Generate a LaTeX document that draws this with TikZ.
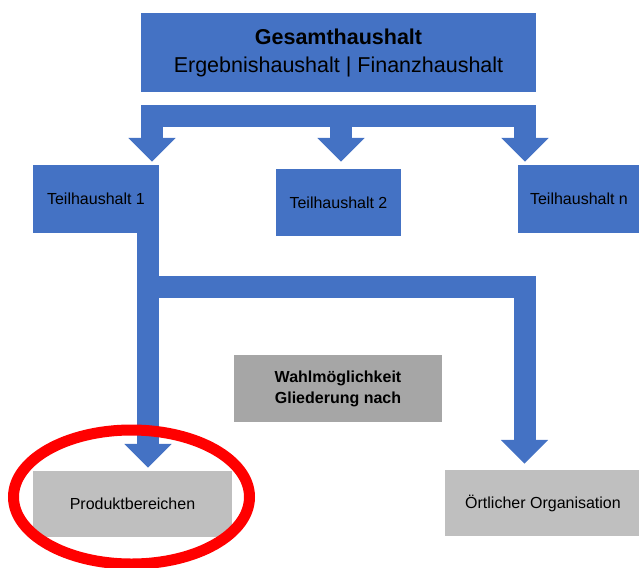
\documentclass[tikz,border=0pt]{standalone}
\usepackage{fontspec}
\setmainfont{Liberation Sans}
\usetikzlibrary{arrows.meta}
\definecolor{blockblue}{RGB}{68,114,196}
\definecolor{optgray}{RGB}{166,166,166}
\definecolor{leafgray}{RGB}{191,191,191}
\definecolor{markred}{RGB}{255,0,0}

\begin{document}
\begin{tikzpicture}[x=1pt, y=-1pt,
    fathead/.tip={Triangle[width=46pt, length=24pt]},
    bluebox/.style={fill=blockblue, inner sep=0pt, align=center,
                    font=\fontsize{16}{19}\selectfont},
    graybox/.style={fill=leafgray, inner sep=0pt, align=center,
                    font=\fontsize{16}{19}\selectfont},
    fat/.style={line width=22pt, draw=blockblue, line join=miter},
    ring/.style={draw=markred, line width=11pt}
  ]
    \useasboundingbox (0,0) rectangle (639,567);

    %% Top: whole budget
    \node[bluebox, minimum width=395pt, minimum height=79pt,
          font=\fontsize{21.5}{28}\selectfont] (ges) at (338.5,52.5)
      {\textbf{Gesamthaushalt}\\Ergebnishaushalt | Finanzhaushalt};

    %% Partial budgets
    \node[bluebox, minimum width=126pt, minimum height=68pt] (th1) at (96,199) {Teilhaushalt 1};
    \node[bluebox, minimum width=125pt, minimum height=67pt] (th2) at (338.5,202.5) {Teilhaushalt 2};
    \node[bluebox, minimum width=122pt, minimum height=68pt] (thn) at (579,199) {Teilhaushalt n};

    %% Choice of structure
    \node[graybox, fill=optgray, minimum width=208pt, minimum height=67pt,
          font=\fontsize{16}{21}\selectfont\bfseries] (wahl) at (338,388.5)
      {Wahlmöglichkeit\\Gliederung nach};
    \node[graybox, minimum width=199pt, minimum height=66pt] (prod) at (132.5,504) {Produktbereichen};
    \node[graybox, minimum width=196pt, minimum height=66pt] (ort) at (543,503) {Örtlicher Organisation};

    %% Distribution bar
    \coordinate (busL) at (152,116);
    \coordinate (busM) at (341,116);
    \coordinate (busR) at (525,116);
    \draw[fat, fathead-fathead, shorten <=3pt, shorten >=3pt]
      (busL |- th1.north) -- (busL) -- (busR) -- (busR |- thn.north);
    \draw[fat, -fathead, shorten >=7pt] (busM) -- (busM |- th2.north);

    %% Branch below Teilhaushalt 1
    \coordinate (fork) at (148,287);
    \coordinate (turn) at (524.5,287);
    \draw[fat, -fathead, shorten >=3pt] (fork |- th1.south) -- (fork |- prod.north);
    \draw[fat, -fathead, shorten >=6pt] (fork) -- (turn) -- (turn |- ort.north);

    %% Highlight
    \draw[ring] (131.5,497) ellipse [x radius=118pt, y radius=67pt];
  \end{tikzpicture}
\end{document}
